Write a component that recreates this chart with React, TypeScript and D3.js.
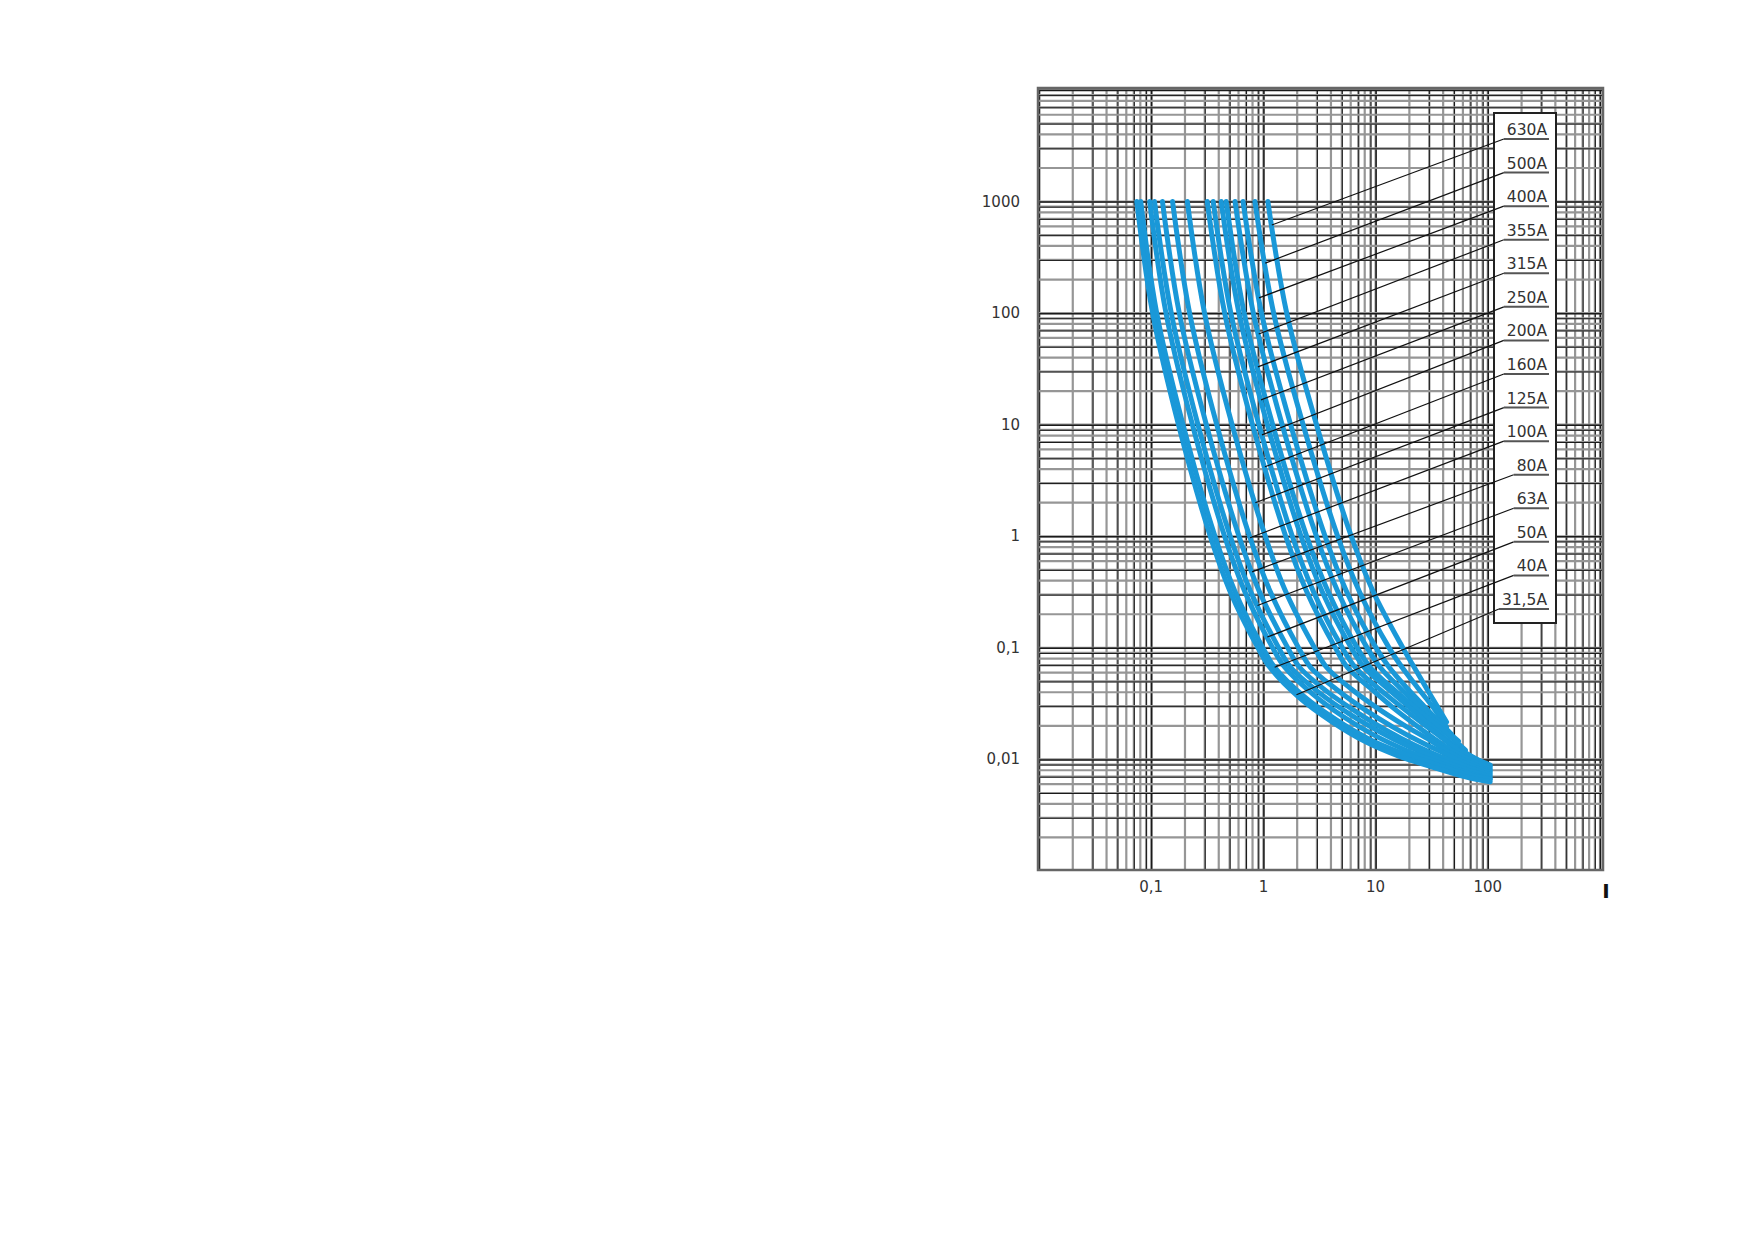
import * as d3 from "d3";

type Pt = [number, number]; // [current, time in s]

const CURRENT_TICKS = [0.1, 1, 10, 100];
const CURRENT_LABELS = ["0,1", "1", "10", "100"];
const TIME_TICKS = [1000, 100, 10, 1, 0.1, 0.01];
const TIME_LABELS = ["1000", "100", "10", "1", "0,1", "0,01"];

const FUSE_NAMES = ["630A", "500A", "400A", "355A", "315A", "250A", "200A", "160A", "125A", "100A", "80A", "63A", "50A", "40A", "31,5A"];

const FUSE_630A: Pt[] = [[1.096, 1000], [1.614, 100], [2.975, 10], [6.07, 1], [9.5, 0.32], [17.5, 0.1], [22.8, 0.0634], [29.7, 0.0403], [42.9, 0.0216]];
const FUSE_500A: Pt[] = [[0.841, 1000], [1.234, 100], [2.26, 10], [4.59, 1], [7.16, 0.32], [13.2, 0.1], [17.2, 0.067], [23.8, 0.0437], [32.3, 0.0296], [42.9, 0.0195]];
const FUSE_400A: Pt[] = [[0.659, 1000], [0.962, 100], [1.75, 10], [3.545, 1], [5.51, 0.32], [10.1, 0.1], [13.2, 0.067], [19, 0.0437], [26.9, 0.0302], [37.2, 0.0216], [47.5, 0.0168]];
const FUSE_355A: Pt[] = [[0.559, 1000], [0.814, 100], [1.47, 10], [2.97, 1], [4.6, 0.32], [8.41, 0.1], [10.96, 0.067], [16.5, 0.0437], [24.3, 0.0302], [35, 0.0216], [54.8, 0.0146]];
const FUSE_315A: Pt[] = [[0.466, 1000], [0.674, 100], [1.21, 10], [2.43, 1], [3.77, 0.32], [6.86, 0.1], [8.94, 0.067], [14.0, 0.0437], [21.5, 0.0302], [32.3, 0.0216], [46.6, 0.0159], [63.2, 0.0121]];
const FUSE_250A: Pt[] = [[0.421, 1000], [0.606, 100], [1.085, 10], [2.165, 1], [3.34, 0.32], [6.07, 0.1], [7.91, 0.067], [12.6, 0.0437], [19.8, 0.0296], [29.7, 0.0208], [43.8, 0.0149], [61.9, 0.0116], [82.4, 0.0099], [105, 0.0089]];
const FUSE_200A: Pt[] = [[0.357, 1000], [0.513, 100], [0.912, 10], [1.81, 1], [2.79, 0.32], [5.05, 0.1], [6.59, 0.067], [10.5, 0.0437], [16.5, 0.0302], [25.3, 0.0216], [38, 0.0159], [54.8, 0.0121], [77.5, 0.0101], [105, 0.0086]];
const FUSE_160A: Pt[] = [[0.316, 1000], [0.452, 100], [0.799, 10], [1.58, 1], [2.43, 0.32], [4.38, 0.1], [5.59, 0.067], [8.94, 0.0437], [14, 0.0296], [21.5, 0.0212], [32.9, 0.0155], [49.5, 0.0118], [72.9, 0.0097], [105, 0.0082]];
const FUSE_125A: Pt[] = [[0.21, 1000], [0.299, 100], [0.526, 10], [1.04, 1], [1.58, 0.32], [2.86, 0.1], [3.65, 0.067], [6.07, 0.0428], [10.3, 0.029], [17.9, 0.0203], [30.4, 0.0149], [44.7, 0.0116], [70, 0.0093], [105, 0.0079]];
const FUSE_100A: Pt[] = [[0.155, 1000], [0.22, 100], [0.384, 10], [0.753, 1], [1.15, 0.32], [2.06, 0.1], [2.63, 0.067], [4.56, 0.0419], [8.07, 0.0278], [14.3, 0.0195], [25.3, 0.0143], [42.9, 0.0111], [68.6, 0.0089], [105, 0.0076]];
const FUSE_80A: Pt[] = [[0.126, 1000], [0.178, 100], [0.31, 10], [0.606, 1], [0.92, 0.32], [1.65, 0.1], [2.1, 0.067], [3.72, 0.0403], [6.72, 0.0267], [12.4, 0.0183], [22.4, 0.0134], [39.6, 0.0104], [65.9, 0.0086], [105, 0.0073]];
const FUSE_63A: Pt[] = [[0.107, 1000], [0.151, 100], [0.261, 10], [0.506, 1], [0.769, 0.32], [1.37, 0.1], [1.75, 0.067], [3.16, 0.0395], [5.83, 0.0256], [10.96, 0.0176], [20.2, 0.0129], [37.2, 0.0099], [64.5, 0.0081], [105, 0.007]];
const FUSE_50A: Pt[] = [[0.097, 1000], [0.1355, 100], [0.233, 10], [0.451, 1], [0.682, 0.32], [1.21, 0.1], [1.55, 0.067], [2.74, 0.0387], [5.05, 0.0245], [9.7, 0.0165], [18.6, 0.0121], [35, 0.0095], [63.2, 0.0077], [105, 0.0067]];
const FUSE_40A: Pt[] = [[0.0807, 1000], [0.112, 100], [0.192, 10], [0.37, 1], [0.558, 0.32], [0.99, 0.1], [1.26, 0.067], [2.33, 0.0363], [4.47, 0.0226], [8.76, 0.0152], [17.2, 0.0114], [33.6, 0.0091], [63.2, 0.0074], [105, 0.0066]];
const FUSE_31_5A: Pt[] = [[0.0744, 1000], [0.103, 100], [0.175, 10], [0.336, 1], [0.505, 0.32], [0.894, 0.1], [1.14, 0.067], [2.1, 0.0356], [4.12, 0.0216], [8.24, 0.0143], [16.1, 0.0107], [31.6, 0.0086], [63.2, 0.007], [105, 0.0063]];

// same order as FUSE_NAMES
const FUSE_CURVES = [FUSE_630A, FUSE_500A, FUSE_400A, FUSE_355A, FUSE_315A, FUSE_250A, FUSE_200A, FUSE_160A, FUSE_125A, FUSE_100A, FUSE_80A, FUSE_63A, FUSE_50A, FUSE_40A, FUSE_31_5A];

// time (s) where each label's leader meets its curve
const LEADER_TIMES = [617, 281, 137, 65, 33, 16.7, 8.1, 4.2, 2.0, 0.97, 0.48, 0.24, 0.125, 0.067, 0.038];

const W = 1752;
const H = 1239;
const FRAME = { left: 1038, top: 88, right: 1603, bottom: 870 };
const FONT = "'DejaVu Sans', Verdana, sans-serif";
const BLUE = "#1a98d8";

// current on a curve at a given time, log-log interpolation
function currentAt(curve: Pt[], t: number) {
  for (let i = 0; i < curve.length - 1; i++) {
    const [i0, t0] = curve[i];
    const [i1, t1] = curve[i + 1];
    if (t <= t0 && t >= t1) {
      const f = (Math.log(t0) - Math.log(t)) / (Math.log(t0) - Math.log(t1));
      return Math.exp(Math.log(i0) + f * (Math.log(i1) - Math.log(i0)));
    }
  }
  return curve[curve.length - 1][0];
}

function textWidth(s: string, size: number) {
  let w = 0;
  for (const c of s) w += c === "," ? 0.318 : c === "A" ? 0.684 : 0.636;
  return w * size;
}

export default function App() {
  const x = d3.scaleLog().domain([0.01, 1000]).range([1039, 1600]);
  const y = d3.scaleLog().domain([0.001, 10000]).range([871, 90]);

  const line = d3
    .line<Pt>()
    .x((d) => x(d[0]))
    .y((d) => y(d[1]))
    .curve(d3.curveCatmullRom.alpha(0.5));

  const gridX: { v: number; m: number }[] = [];
  for (const dec of [0.01, 0.1, 1, 10, 100]) for (let m = 1; m <= 9; m++) gridX.push({ v: dec * m, m });
  gridX.push({ v: 1000, m: 1 });
  const gridY: { v: number; m: number }[] = [];
  for (const dec of [0.001, 0.01, 0.1, 1, 10, 100, 1000]) for (let m = 1; m <= 9; m++) gridY.push({ v: dec * m, m });
  gridY.push({ v: 10000, m: 1 });

  const labelY = d3.scalePoint<string>().domain(FUSE_NAMES).range([130, 600]);
  const labelSize = 15.5;
  const labelEnd = 1547;

  return (
    <svg
      width={W}
      height={H}
      viewBox={`0 0 ${W} ${H}`}
      style={{ position: "absolute", left: 0, top: 0, background: "#fff" }}
      fontFamily={FONT}
    >
      <defs>
        <clipPath id="plot-clip">
          <rect x={FRAME.left} y={FRAME.top} width={FRAME.right - FRAME.left} height={FRAME.bottom - FRAME.top} />
        </clipPath>
      </defs>

      {/* Log grid */}
      <g clipPath="url(#plot-clip)">
        {gridX.map(({ v, m }) => (
          <g key={`gx${v}`}>
            <line x1={x(v)} x2={x(v)} y1={FRAME.top} y2={FRAME.bottom} stroke="#969696" strokeWidth={2.2} />
            {m % 2 === 1 && (
              <line x1={x(v) + 0.5} x2={x(v) + 0.5} y1={FRAME.top} y2={FRAME.bottom} stroke="#1a1a1a" strokeWidth={m === 1 ? 1.5 : 1} />
            )}
          </g>
        ))}
        {gridY.map(({ v, m }) => (
          <g key={`gy${v}`}>
            <line x1={FRAME.left} x2={FRAME.right} y1={y(v)} y2={y(v)} stroke="#969696" strokeWidth={2.2} />
            {m % 2 === 1 && (
              <line x1={FRAME.left} x2={FRAME.right} y1={y(v) + 0.5} y2={y(v) + 0.5} stroke="#1a1a1a" strokeWidth={m === 1 ? 1.5 : 1} />
            )}
          </g>
        ))}
      </g>

      {/* Frame */}
      <rect
        x={FRAME.left}
        y={FRAME.top}
        width={FRAME.right - FRAME.left}
        height={FRAME.bottom - FRAME.top}
        fill="none"
        stroke="#666"
        strokeWidth={2.5}
      />

      {/* Fuse curves */}
      <g fill="none" stroke={BLUE} strokeWidth={5} strokeLinecap="round" strokeLinejoin="round">
        {FUSE_CURVES.map((c, i) => (
          <path key={FUSE_NAMES[i]} d={line(c) ?? ""} />
        ))}
      </g>

      {/* Legend box */}
      <rect x={1494} y={113} width={62} height={510} fill="#fff" stroke="#222" strokeWidth={2} />

      {/* Labels, underlines, leaders */}
      {FUSE_NAMES.map((name, i) => {
        const cy = labelY(name) ?? 0;
        const uy = cy + 9;
        const ux1 = labelEnd - textWidth(name, labelSize) - 3;
        const t = LEADER_TIMES[i];
        const tx = x(currentAt(FUSE_CURVES[i], t));
        const ty = y(t);
        return (
          <g key={name}>
            <line x1={ux1} y1={uy} x2={tx} y2={ty} stroke="#111" strokeWidth={1.2} />
            <line x1={ux1} y1={uy} x2={labelEnd + 2} y2={uy} stroke="#555" strokeWidth={2} />
            <text
              x={labelEnd}
              y={cy}
              textAnchor="end"
              dominantBaseline="central"
              fontSize={labelSize}
              fill="#333"
            >
              {name}
            </text>
          </g>
        );
      })}

      {/* Y axis labels */}
      {TIME_TICKS.map((v, i) => (
        <text key={`ty${v}`} x={1020} y={y(v)} textAnchor="end" dominantBaseline="central" fontSize={15} fill="#333">
          {TIME_LABELS[i]}
        </text>
      ))}

      {/* X axis labels */}
      {CURRENT_TICKS.map((v, i) => (
        <text key={`tx${v}`} x={x(v)} y={887} textAnchor="middle" dominantBaseline="central" fontSize={15} fill="#333">
          {CURRENT_LABELS[i]}
        </text>
      ))}

      {/* Current axis symbol */}
      <text x={1606} y={898} textAnchor="middle" fontSize={20} fontWeight="bold" fill="#111">
        I
      </text>
    </svg>
  );
}
